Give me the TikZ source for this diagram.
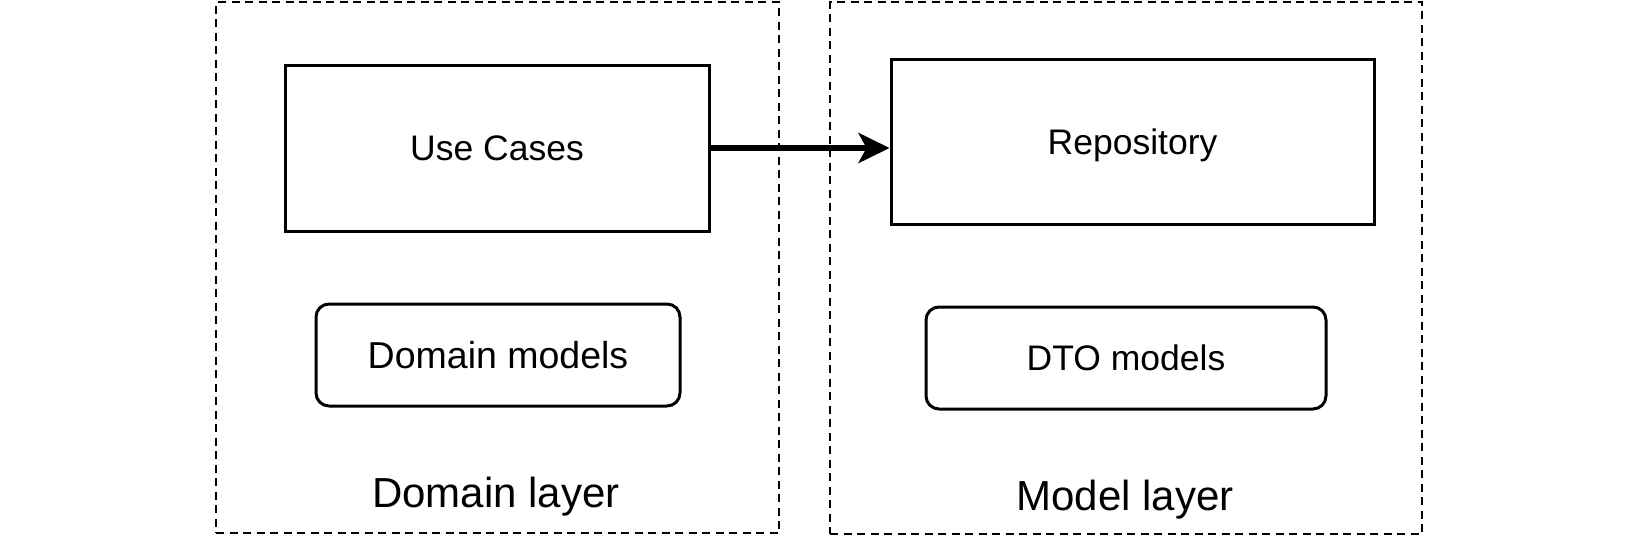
\documentclass[tikz,border=0pt]{standalone}
\usepackage{fontspec}
\setmainfont{Liberation Sans}
\usetikzlibrary{arrows.meta}

\begin{document}
\begin{tikzpicture}[x=1pt,y=-1pt,
    layer/.style={draw,dash pattern=on 8pt off 5.5pt,line width=2.8pt,inner sep=0pt},
    box/.style={draw,line width=3pt,inner sep=0pt,font=\fontsize{35.5}{42}\selectfont},
    model/.style={box,rounded corners=13pt},
    caption/.style={anchor=base,inner sep=0pt,font=\fontsize{42}{50}\selectfont}]
    \useasboundingbox (0,0) rectangle (1639,536);
    % the two layers
    \node[layer,minimum width=563pt,minimum height=531pt] (domain) at (497.5,267.5) {};
    \node[layer,minimum width=592pt,minimum height=532pt] (modellayer) at (1126,268) {};
    \node[caption] (domainlabel) at (496,507) {Domain layer};
    \node[caption] (modellabel) at (1125,510) {Model layer};
    % boxes inside
    \node[box,minimum width=424pt,minimum height=166pt] (usecases) at (497,148) {Use Cases};
    \node[box,minimum width=483pt,minimum height=165pt,text height=34pt] (repo) at (1132.5,141.5) {Repository};
    \node[model,minimum width=364pt,minimum height=102pt,font=\fontsize{37.5}{44}\selectfont] (domainmodels) at (498,355) {Domain models};
    \node[model,minimum width=400pt,minimum height=102pt] (dto) at (1126,358) {DTO models};
    \draw[line width=5.5pt,-{Stealth[length=31pt,width=30pt,inset=8pt]}] (usecases.east) -- (usecases.east -| repo.west);
\end{tikzpicture}
\end{document}
